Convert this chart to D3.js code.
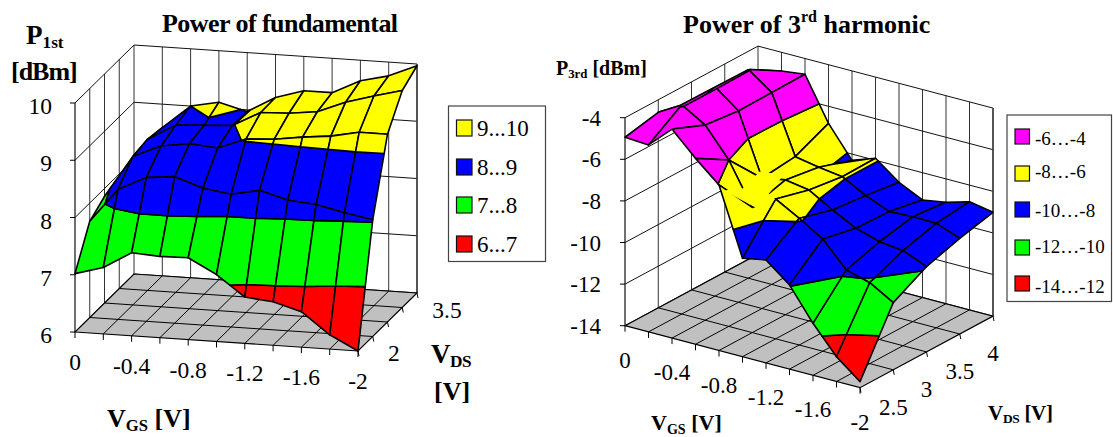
<!DOCTYPE html>
<html>
<head>
<meta charset="utf-8">
<script src="https://cdn.jsdelivr.net/npm/d3@7"></script>
<style>
  html, body { margin: 0; padding: 0; background: #fff; }
  svg { display: block; }
  text { font-family: "Liberation Serif", serif; fill: #000; }
  .bold { font-weight: bold; }
</style>
</head>
<body>
<svg id="mysvg" width="1113" height="437"></svg>
<script>
// V_GS runs along the front edge, V_DS runs into the picture
const vgsTicks = ["0", "", "-0.4", "", "-0.8", "", "-1.2", "", "-1.6", "", "-2"];

// power of fundamental, one row per V_DS step, front row first
const p1Rows = [
  [7.02, 7.16, 7.45, 7.42, 7.43, 7.17, 6.81, 6.76, 6.62, 6.25, 6.0],
  [7.68, 8.27, 8.51, 8.56, 8.39, 8.32, 8.42, 8.28, 8.24, 8.13, 8.04],
  [7.86, 8.59, 8.81, 8.88, 8.84, 9.03, 9.06, 9.13, 9.18, 9.28, 9.28],
  [7.93, 8.64, 8.92, 8.95, 8.98, 9.24, 9.26, 9.32, 9.52, 9.66, 9.79],
  [8.06, 8.59, 9.0, 9.1, 8.97, 9.25, 9.40, 9.40, 9.64, 9.76, 9.97],
];
const p1Ticks = [6, 7, 8, 9, 10];
const p1DepthTicks = ["2", "", "", "3.5", ""];
const p1Bands = [6, 7, 8, 9, 10];
const p1Colors = ["#ff0000", "#00ff00", "#0000ff", "#ffff00"];
const p1Legend = ["9...10", "8...9", "7...8", "6...7"];

// power of 3rd harmonic, same layout
const p3Rows = [
  [-4.94, -5.01, -3.95, -5.06, -6.04, -9.27, -9.05, -9.95, -11.5, -12.81, -13.71],
  [-4.6, -3.95, -4.62, -6.0, -7.98, -7.28, -7.91, -8.61, -9.8, -10.11, -10.77],
  [-5.2, -3.93, -4.8, -7.74, -7.52, -7.71, -8.37, -8.95, -9.3, -9.43, -9.9],
  [-5.41, -3.96, -4.78, -7.56, -7.77, -7.93, -8.54, -9.01, -8.96, -8.98, -9.4],
  [-5.79, -4.9, -4.76, -6.82, -8.3, -7.9, -8.76, -9.31, -9.12, -8.8, -9.01],
];
const p3Ticks = [-14, -12, -10, -8, -6, -4];
const p3DepthTicks = ["", "2.5", "3", "3.5", "4"];
const p3Bands = [-14, -12, -10, -8, -6, -4];
const p3Colors = ["#ff0000", "#00ff00", "#0000ff", "#ffff00", "#ff00ff"];
const p3Legend = ["-6…-4", "-8…-6", "-10…-8", "-12…-10", "-14…-12"];

// patch of yellow where the surface folds over its own grid (grid position [i, j])
const p3Fold = [[3.6, 1], [2.9, 2], [3, 2.25], [3.6, 2.2], [4, 1.5], [4.9, 1.05], [4.85, 0.75], [4.05, 0.12], [3.75, 0.6]];

const svg = d3.select("#mysvg");

function makeProjection(cfg) {
  // the box is an oblique projection, so x, y, z just add up on screen
  const sxX = d3.scaleLinear().domain([0, 10]).range([0, cfg.front[0]]);
  const sxY = d3.scaleLinear().domain([0, 10]).range([0, cfg.front[1]]);
  const sdX = d3.scaleLinear().domain([0, 4]).range([0, cfg.depth[0]]);
  const sdY = d3.scaleLinear().domain([0, 4]).range([0, cfg.depth[1]]);
  const sz = d3.scaleLinear().domain(cfg.zDomain).range([0, -cfg.zHeight]);
  return (i, j, z) => [
    cfg.origin[0] + sxX(i) + sdX(j),
    cfg.origin[1] + sxY(i) + sdY(j) + sz(z),
  ];
}

// Sutherland-Hodgman clip in z, the corners are [i, j, z]
function clipZ(poly, limit, keepAbove) {
  const out = [];
  const inside = (p) => (keepAbove ? p[2] >= limit : p[2] <= limit);
  poly.forEach((p, k) => {
    const q = poly[(k + 1) % poly.length];
    if (inside(p)) out.push(p);
    if (inside(p) !== inside(q)) {
      const t = (limit - p[2]) / (q[2] - p[2]);
      out.push([p[0] + t * (q[0] - p[0]), p[1] + t * (q[1] - p[1]), limit]);
    }
  });
  return out;
}

function drawChart(cfg) {
  const g = svg.append("g");
  const project = makeProjection(cfg);
  const line = d3.line();
  const zMin = cfg.zDomain[0];
  const zMax = cfg.zDomain[1];
  const path = (pts) => line(pts.map((p) => project(p[0], p[1], p[2]))) + "Z";
  const seg = (a, b, col, w) =>
    g.append("path")
      .attr("d", line([project(...a), project(...b)]))
      .attr("stroke", col || "#000")
      .attr("stroke-width", w || 1)
      .attr("fill", "none");

  // walls
  g.append("path")
    .attr("d", path([[0, 0, zMin], [0, 4, zMin], [0, 4, zMax], [0, 0, zMax]]))
    .attr("fill", "#fff");
  d3.range(1, 5).forEach((j) => seg([0, j, zMin], [0, j, zMax], "#333"));
  d3.range(1, 11).forEach((i) => seg([i, 4, zMin], [i, 4, zMax], "#333"));
  cfg.ticks.forEach((t) => {
    seg([0, 0, t], [0, 4, t], "#111");
    seg([0, 4, t], [10, 4, t], "#111");
  });
  seg([0, 0, zMin], [0, 0, zMax], "#111", 1.2);
  seg([10, 4, zMin], [10, 4, zMax], "#444", 1.6);

  // floor
  g.append("path")
    .attr("d", path([[0, 0, zMin], [10, 0, zMin], [10, 4, zMin], [0, 4, zMin]]))
    .attr("fill", "#c0c0c0")
    .attr("stroke", "#000")
    .attr("stroke-width", 1.2);
  d3.range(1, 10).forEach((i) => seg([i, 0, zMin], [i, 4, zMin]));
  d3.range(1, 4).forEach((j) => seg([0, j, zMin], [10, j, zMin]));

  // tick marks and labels
  cfg.ticks.forEach((t) => {
    const p = project(0, 0, t);
    g.append("line").attr("x1", p[0] - 5).attr("x2", p[0]).attr("y1", p[1]).attr("y2", p[1]).attr("stroke", "#000");
    g.append("text")
      .attr("x", p[0] + cfg.zLabelDx)
      .attr("y", p[1] + cfg.zLabelDy)
      .attr("text-anchor", "end")
      .attr("font-size", cfg.tickSize)
      .text(t);
  });
  vgsTicks.forEach((label, i) => {
    const p = project(i, 0, zMin);
    g.append("line").attr("x1", p[0]).attr("x2", p[0]).attr("y1", p[1]).attr("y2", p[1] + 6).attr("stroke", "#000");
    g.append("text")
      .attr("x", p[0])
      .attr("y", p[1] + cfg.xLabelDy)
      .attr("text-anchor", "middle")
      .attr("font-size", cfg.tickSize)
      .text(label);
  });
  cfg.depthTicks.forEach((label, j) => {
    const p = project(10, j, zMin);
    g.append("line").attr("x1", p[0]).attr("x2", p[0] + 1).attr("y1", p[1]).attr("y2", p[1] + 5).attr("stroke", "#000");
    g.append("text")
      .attr("x", p[0] + cfg.depthLabel[0])
      .attr("y", p[1] + cfg.depthLabel[1])
      .attr("text-anchor", cfg.depthAnchor)
      .attr("font-size", cfg.tickSize)
      .text(label);
  });

  // surface, far cells first; each cell is cut into its colour bands
  for (let j = 3; j >= 0; j--) {
    for (let i = 0; i < 10; i++) {
      const cell = [
        [i, j, cfg.rows[j][i]],
        [i + 1, j, cfg.rows[j][i + 1]],
        [i + 1, j + 1, cfg.rows[j + 1][i + 1]],
        [i, j + 1, cfg.rows[j + 1][i]],
      ];
      cfg.colors.forEach((color, b) => {
        let poly = clipZ(cell, cfg.bands[b], true);
        if (poly.length) poly = clipZ(poly, cfg.bands[b + 1], false);
        if (poly.length < 3) return;
        g.append("path")
          .attr("d", path(poly))
          .attr("fill", color)
          .attr("stroke", "#000")
          .attr("stroke-width", 1.6)
          .attr("stroke-linejoin", "round");
      });
    }
  }

  if (cfg.fold) {
    // corners sit on the grid edges, z read from the nearest row
    const zAt = (i, j) => {
      const i0 = Math.min(Math.floor(i), 9), j0 = Math.min(Math.floor(j), 3);
      const u = i - i0, v = j - j0;
      const r = cfg.rows;
      return (1 - v) * ((1 - u) * r[j0][i0] + u * r[j0][i0 + 1]) +
        v * ((1 - u) * r[j0 + 1][i0] + u * r[j0 + 1][i0 + 1]);
    };
    g.append("path")
      .attr("d", path(cfg.fold.map((p) => [p[0], p[1], zAt(p[0], p[1])])))
      .attr("fill", cfg.foldColor);
  }
  return g;
}

function drawLegend(cfg) {
  const l = cfg.legend;
  svg.append("rect")
    .attr("x", l.x).attr("y", l.y).attr("width", l.w).attr("height", l.h)
    .attr("fill", "#fff").attr("stroke", "#444").attr("stroke-width", 1.2);
  l.labels.forEach((label, k) => {
    svg.append("rect")
      .attr("x", l.swatchX).attr("y", l.swatchY[k])
      .attr("width", l.swatchW).attr("height", l.swatchH)
      .attr("fill", l.colors[k]).attr("stroke", "#111").attr("stroke-width", 1.2);
    svg.append("text")
      .attr("x", l.textX).attr("y", l.baseY[k])
      .attr("font-size", l.size)
      .text(label);
  });
}

// text with a big letter and small subscript, optional trailing text
function subText(x, y, size, big, small, rest, spacing) {
  const t = svg.append("text").attr("class", "bold").attr("x", x).attr("y", y)
    .attr("font-size", size).attr("letter-spacing", spacing || 0);
  t.append("tspan").text(big);
  t.append("tspan").attr("font-size", size * 0.64).attr("dy", size * 0.16).text(small);
  if (rest) t.append("tspan").attr("dy", -size * 0.16).text(rest);
}

drawChart({
  origin: [75, 332], front: [283, 19], depth: [59, -58],
  zDomain: [6, 10], zHeight: 229,
  rows: p1Rows, bands: p1Bands, colors: p1Colors,
  ticks: p1Ticks, depthTicks: p1DepthTicks, depthLabel: [30, 10], depthAnchor: "start",
  tickSize: 23.5, zLabelDx: -23, zLabelDy: 11, xLabelDy: 38,
});

drawChart({
  origin: [625, 325.7], front: [235, 62], depth: [133, -71.6],
  zDomain: [-14, -4], zHeight: 208,
  rows: p3Rows, bands: p3Bands, colors: p3Colors,
  ticks: p3Ticks, depthTicks: p3DepthTicks, depthLabel: [0, 45], depthAnchor: "middle",
  tickSize: 23, zLabelDx: -24, zLabelDy: 8, xLabelDy: 42,
  fold: p3Fold, foldColor: "#ffff00",
});

drawLegend({ legend: {
  x: 448.5, y: 106, w: 97, h: 155.5, swatchX: 456.5, swatchW: 15.5, swatchH: 16,
  swatchY: [120, 159, 197, 236], textX: 477, baseY: [136, 175, 213, 252], size: 23,
  labels: p1Legend, colors: p1Colors.slice().reverse(),
}});
drawLegend({ legend: {
  x: 1007, y: 115, w: 104.5, h: 186.5, swatchX: 1015, swatchW: 14.5, swatchH: 15,
  swatchY: [129, 166, 202, 240, 276], textX: 1035, baseY: [145, 178, 217, 253, 293], size: 19,
  labels: p3Legend, colors: p3Colors.slice().reverse(),
}});

// titles
svg.append("text").attr("class", "bold").attr("x", 162).attr("y", 32).attr("font-size", 26)
  .attr("letter-spacing", -0.55).text("Power of fundamental");
const title2 = svg.append("text").attr("class", "bold").attr("x", 683).attr("y", 32.5).attr("font-size", 26);
title2.append("tspan").text("Power of 3");
title2.append("tspan").attr("font-size", 16).attr("dy", -11).text("rd");
title2.append("tspan").attr("dy", 11).text(" harmonic");

// axis titles
subText(26, 44, 27, "P", "1st");
svg.append("text").attr("class", "bold").attr("x", 11).attr("y", 80).attr("font-size", 26)
  .attr("letter-spacing", -1).text("[dBm]");
subText(556, 75, 20, "P", "3rd", " [dBm]");
subText(107, 427, 26, "V", "GS", " [V]");
subText(431, 363, 27, "V", "DS", null, -0.5);
svg.append("text").attr("class", "bold").attr("x", 434).attr("y", 400).attr("font-size", 26).text("[V]");
subText(651, 430, 22, "V", "GS", " [V]");
subText(988, 420, 21, "V", "DS", " [V]", -0.3);
</script>
</body>
</html>
